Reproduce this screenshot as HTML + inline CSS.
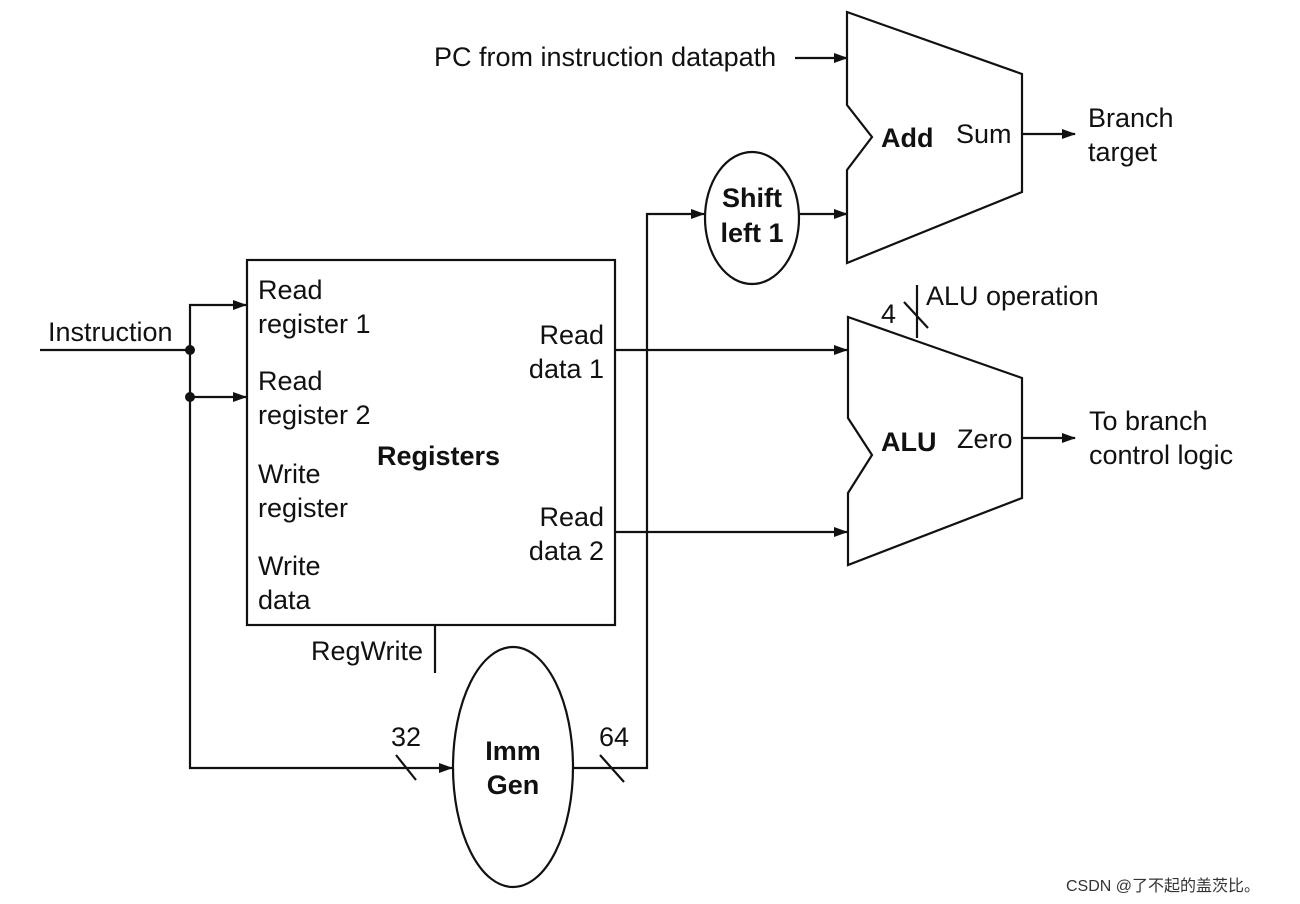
<!DOCTYPE html>
<html><head><style>
html,body{margin:0;padding:0;background:#fff;}
svg{display:block;}
text{font-family:"Liberation Sans",Arial,sans-serif;font-size:27px;fill:#111;}
.b{font-weight:bold;}
</style></head><body>
<svg width="1300" height="904" viewBox="0 0 1300 904">
<defs><marker id="a" markerWidth="14" markerHeight="10" refX="13" refY="5" orient="auto" markerUnits="userSpaceOnUse"><path d="M0,0 L14,5 L0,10 z" fill="#111"/></marker></defs>
<g stroke="#111" stroke-width="2.2" fill="none">
<path d="M847,12 L1022,74 L1022,192 L847,263 L847,170 L872,137 L847,105 Z"/>
<path d="M848,317 L1022,378 L1022,498 L848,565 L848,493 L872,455 L848,418 Z"/>
<rect x="247" y="260" width="368" height="365"/>
<ellipse cx="752" cy="218" rx="47" ry="66"/>
<ellipse cx="513" cy="767" rx="60" ry="120"/>
<line x1="795" y1="58" x2="847" y2="58" marker-end="url(#a)"/>
<line x1="800" y1="214" x2="847" y2="214" marker-end="url(#a)"/>
<line x1="1022" y1="134" x2="1075" y2="134" marker-end="url(#a)"/>
<line x1="1022" y1="438" x2="1075" y2="438" marker-end="url(#a)"/>
<line x1="615" y1="350" x2="847" y2="350" marker-end="url(#a)"/>
<line x1="615" y1="532" x2="847" y2="532" marker-end="url(#a)"/>
<line x1="917" y1="285" x2="917" y2="338"/>
<line x1="904" y1="302" x2="928" y2="328"/>
<line x1="40" y1="350" x2="190" y2="350"/>
<polyline points="190,350 190,305 246,305" marker-end="url(#a)"/>
<polyline points="190,350 190,397 246,397" marker-end="url(#a)"/>
<polyline points="190,397 190,768 452,768" marker-end="url(#a)"/>
<line x1="396" y1="755" x2="416" y2="780"/>
<polyline points="573,768 647,768 647,214 704,214" marker-end="url(#a)"/>
<line x1="600" y1="755" x2="624" y2="782"/>
<line x1="435" y1="625" x2="435" y2="673"/>
</g>
<circle cx="190" cy="350" r="5" fill="#111"/>
<circle cx="190" cy="397" r="5" fill="#111"/>
<text x="434" y="66">PC from instruction datapath</text>
<text x="881" y="147" class="b">Add</text>
<text x="956" y="143">Sum</text>
<text x="1088" y="127">Branch</text>
<text x="1088" y="161">target</text>
<text x="752" y="207" class="b" text-anchor="middle">Shift</text>
<text x="752" y="242" class="b" text-anchor="middle">left 1</text>
<text x="926" y="305">ALU operation</text>
<text x="881" y="323">4</text>
<text x="881" y="451" class="b">ALU</text>
<text x="957" y="448">Zero</text>
<text x="1089" y="430">To branch</text>
<text x="1089" y="464">control logic</text>
<text x="48" y="341">Instruction</text>
<text x="258" y="299">Read</text>
<text x="258" y="333">register 1</text>
<text x="258" y="390">Read</text>
<text x="258" y="424">register 2</text>
<text x="258" y="483">Write</text>
<text x="258" y="517">register</text>
<text x="258" y="575">Write</text>
<text x="258" y="609">data</text>
<text x="377" y="465" class="b">Registers</text>
<text x="604" y="344" text-anchor="end">Read</text>
<text x="604" y="378" text-anchor="end">data 1</text>
<text x="604" y="526" text-anchor="end">Read</text>
<text x="604" y="560" text-anchor="end">data 2</text>
<text x="311" y="660">RegWrite</text>
<text x="391" y="746">32</text>
<text x="599" y="746">64</text>
<text x="513" y="760" class="b" text-anchor="middle">Imm</text>
<text x="513" y="794" class="b" text-anchor="middle">Gen</text>
<text x="1066" y="891" style="font-size:16px;fill:#333;font-family:'Liberation Sans','Noto Sans CJK SC',sans-serif">CSDN @了不起的盖茨比。</text>
</svg>
</body></html>
